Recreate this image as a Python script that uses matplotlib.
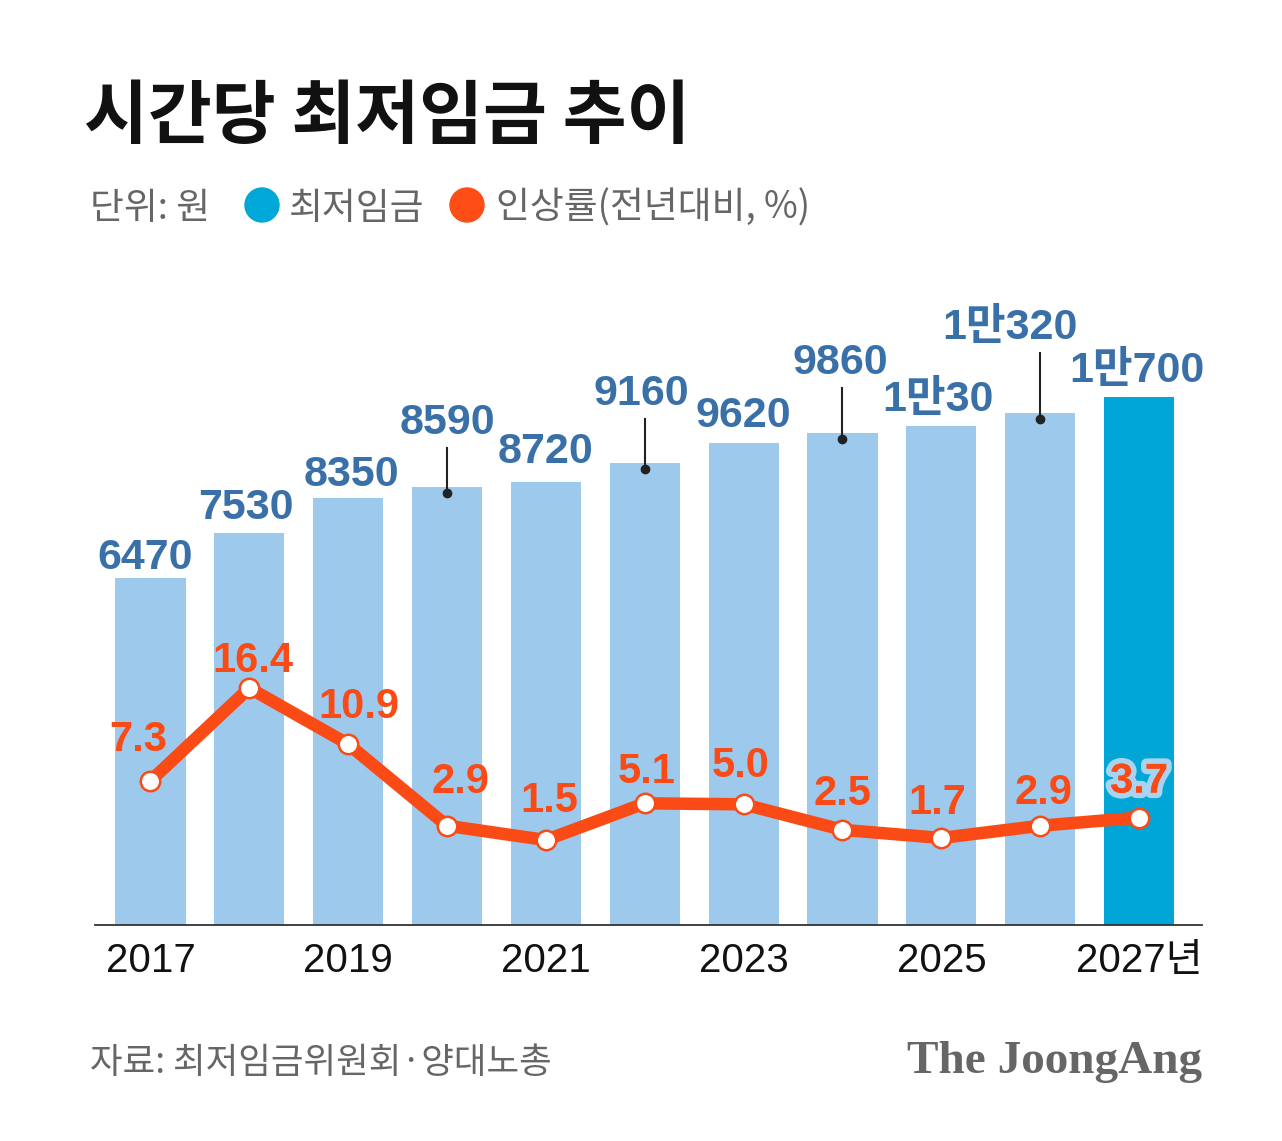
import matplotlib
matplotlib.use("Agg")
import matplotlib.pyplot as plt
import matplotlib.patheffects as pe
from matplotlib.patches import Circle
from matplotlib.transforms import IdentityTransform

# data
years = [2017, 2018, 2019, 2020, 2021, 2022, 2023, 2024, 2025, 2026, 2027]
wage = [6470, 7530, 8350, 8590, 8720, 9160, 9620, 9860, 10030, 10320, 10700]
rate = [7.3, 16.4, 10.9, 2.9, 1.5, 5.1, 5.0, 2.5, 1.7, 2.9, 3.7]
tick_years = [2017, 2019, 2021, 2023, 2025, 2027]
tick_labels = ["2017", "2019", "2021", "2023", "2025", "2027년"]

# layout (pixels on a 1282x1141 canvas)
W, H, DPI = 1282, 1141, 100
AX_L, AX_R, AX_T, AX_B = 95, 1202, 300, 925
XMIN, XMAX = -0.561, 10.637
YMIN, YMAX = -1640, 12966          # wage axis (truncated baseline)
RMIN, RMAX = -6.83, 54.44          # rate axis
VAL_GAP = [9, 14, 12, 53, 19, 58, 16, 59, 15, 74, 15]   # label baseline above bar top
VAL_DX = [-5, -3, 3, 0, 0, -3, 0, -2, -3, -30, -2]
LEADER = {2020, 2022, 2024, 2026}
RATE_DY = [30, 16, 26, 33, 28, 20, 27, 25, 24, 22, 25]
RATE_DX = [-12, 4, 11, 13, 3, 2, -3, 0, -4, 3, 0]

BAR_LIGHT = "#9dcaec"
BAR_DARK = "#00a6d6"
BLUE_TXT = "#3a70a8"
ORANGE = "#fa4b17"
GRAY = "#666666"
NUM = ["Liberation Sans", "Noto Sans CJK KR"]
KR = ["Noto Sans CJK KR", "DejaVu Sans"]


def fx(px):
    return px / W


def fy(py):
    return 1 - py / H


def wage_label(v):
    return f"1만{v - 10000}" if v >= 10000 else str(v)


fig = plt.figure(figsize=(W / DPI, H / DPI), dpi=DPI)
ax = fig.add_axes([fx(AX_L), fy(AX_B), (AX_R - AX_L) / W, (AX_B - AX_T) / H])

x = list(range(len(years)))
xpx = (AX_R - AX_L) / (XMAX - XMIN)          # px per x unit
du = (YMAX - YMIN) / (AX_B - AX_T)           # wage units per px
rdu = (RMAX - RMIN) / (AX_B - AX_T)          # rate units per px

colors = [BAR_LIGHT] * (len(years) - 1) + [BAR_DARK]
ax.bar(x, [v - YMIN for v in wage], bottom=YMIN, width=0.71, color=colors, zorder=1)
ax.set_xlim(XMIN, XMAX)
ax.set_ylim(YMIN, YMAX)
for s in ["top", "right", "left"]:
    ax.spines[s].set_visible(False)
ax.spines["bottom"].set_color("#333333")
ax.spines["bottom"].set_linewidth(1.3)
ax.set_xticks([])
ax.set_yticks([])

# bar value labels (some raised with a leader line)
for i, (yr, v) in enumerate(zip(years, wage)):
    gap = VAL_GAP[i]
    ax.text(i + VAL_DX[i] / xpx, v + gap * du, wage_label(v), ha="center", va="baseline",
            fontsize=31, fontweight="bold", color=BLUE_TXT, family=NUM, zorder=4)
    if yr in LEADER:
        ax.plot([i, i], [v - 6 * du, v + (gap - 14) * du], color="#222222", lw=1.5, zorder=3)
        ax.plot([i], [v - 6 * du], "o", color="#222222", ms=6, zorder=3)

# year labels
trans = ax.get_xaxis_transform()
for yr, lab in zip(tick_years, tick_labels):
    ax.text(years.index(yr), -(972 - AX_B) / (AX_B - AX_T), lab, transform=trans,
            ha="center", va="baseline", fontsize=29, color="#111111", family=NUM)

# growth rate line
ax2 = ax.twinx()
ax2.set_ylim(RMIN, RMAX)
ax2.axis("off")
ax2.plot(x, rate, color=ORANGE, lw=9, marker="o", ms=14, mfc="white", mec=ORANGE,
         mew=1.8, solid_joinstyle="round", zorder=3)
for i, r in enumerate(rate):
    t = ax2.text(i + RATE_DX[i] / xpx, r + RATE_DY[i] * rdu, f"{r:.1f}", ha="center",
                 va="baseline", fontsize=30, fontweight="bold", color=ORANGE, family=NUM, zorder=4)
    if i == len(rate) - 1:
        t.set_path_effects([pe.withStroke(linewidth=8, foreground="#a8d4f2"), pe.Normal()])

# title and legend row
fig.text(fx(84), fy(138), "시간당 최저임금 추이", ha="left", va="baseline", fontsize=50,
         fontweight="black", color="#111111", family=KR)
fig.text(fx(90), fy(219), "단위: 원", ha="left", va="baseline", fontsize=26.5,
         fontweight="medium", color=GRAY, family=KR)
fig.add_artist(Circle((262, H - 205), 17, color="#00a8d8", transform=IdentityTransform()))
fig.text(fx(289), fy(219), "최저임금", ha="left", va="baseline", fontsize=26.5,
         fontweight="medium", color=GRAY, family=KR)
fig.add_artist(Circle((467, H - 205), 17, color="#ff4d17", transform=IdentityTransform()))
fig.text(fx(496), fy(219), "인상률(전년대비, %)", ha="left", va="baseline", fontsize=26.5,
         fontweight="medium", color=GRAY, family=KR)

# footer
fig.text(fx(90), fy(1073), "자료: 최저임금위원회·양대노총", ha="left", va="baseline",
         fontsize=25.5, fontweight="medium", color=GRAY, family=KR)
fig.text(fx(1202), fy(1073), "The JoongAng", ha="right", va="baseline", fontsize=34,
         fontweight="bold", color=GRAY, family="Liberation Serif")

fig.savefig("out.png", dpi=DPI, facecolor="white")
